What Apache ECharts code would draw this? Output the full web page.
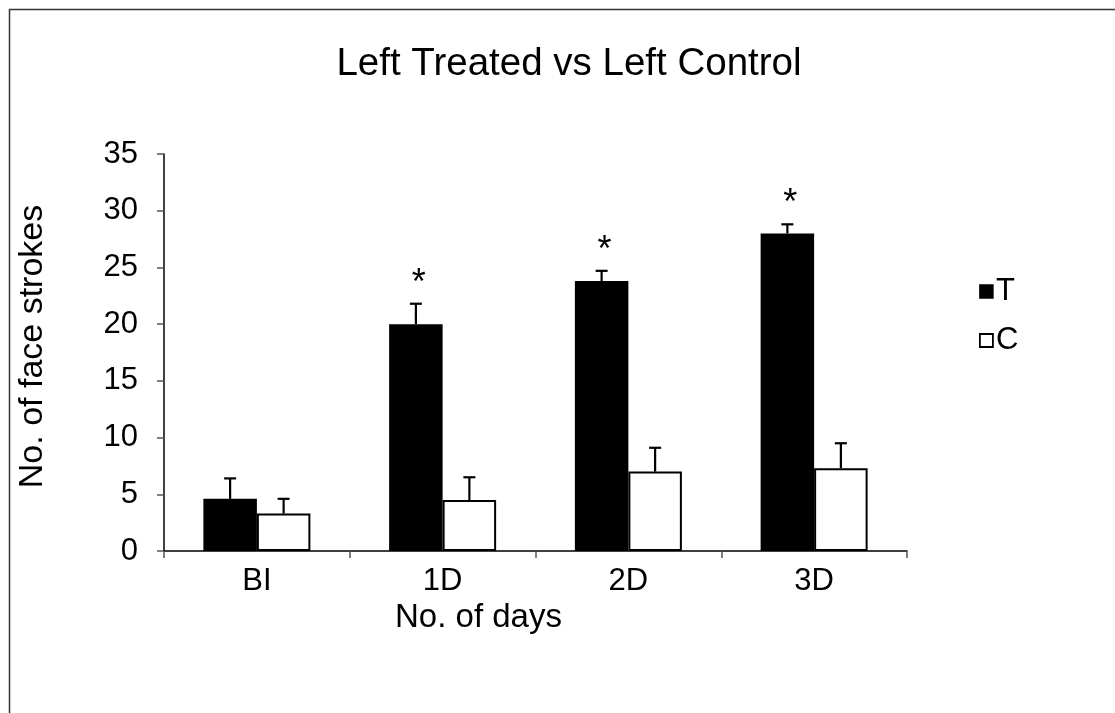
<!DOCTYPE html>
<html>
<head>
<meta charset="utf-8">
<script src="https://cdn.jsdelivr.net/npm/echarts@6/dist/echarts.min.js"></script>
<style>html,body{margin:0;padding:0;background:#fff;}#c{width:1115px;height:713px;}</style>
</head>
<body>
<div id="c"></div>
<script>
var categories = ['BI', '1D', '2D', '3D'];
var treated = [4.6, 20.0, 23.8, 28.0];
var treatedErr = [1.8, 1.8, 0.9, 0.8];
var control = [3.3, 4.5, 7.0, 7.3];
var controlErr = [1.3, 2.0, 2.1, 2.2];
var signif = ['', '*', '*', '*'];
var yTicks = [0, 5, 10, 15, 20, 25, 30, 35];

var FONT = 'Liberation Sans, Arial, sans-serif';
var BAR_W = 53.5;

function errSeries(name, means, errs, side, marks) {
  return {
    type: 'custom',
    name: name + ' err',
    z: 5,
    silent: true,
    data: means.map(function (m, i) { return [i, m, errs[i]]; }),
    renderItem: function (params, api) {
      var i = api.value(0), m = api.value(1), e = api.value(2);
      var base = api.coord([i, m]);
      var top = api.coord([i, m + e]);
      var x = base[0] + side * BAR_W / 2;
      var children = [
        { type: 'line', shape: { x1: x, y1: base[1], x2: x, y2: top[1] }, style: { stroke: '#000', lineWidth: 2.2 } },
        { type: 'line', shape: { x1: x - 6, y1: top[1], x2: x + 6, y2: top[1] }, style: { stroke: '#000', lineWidth: 2.2 } }
      ];
      if (marks && marks[i]) {
        children.push({ type: 'text', style: { text: marks[i], x: x + 3, y: top[1] - 20, align: 'center', verticalAlign: 'middle', font: '36px ' + FONT, fill: '#000' } });
      }
      return { type: 'group', children: children };
    }
  };
}

var chart = echarts.init(document.getElementById('c'));
chart.setOption({
  animation: false,
  backgroundColor: '#fff',
  graphic: [{
    type: 'rect', left: 7, top: 7, silent: true,
    shape: { width: 1200, height: 800 },
    style: { fill: 'none', stroke: '#333', lineWidth: 1.5 }
  }],
  title: {
    text: 'Left Treated vs Left Control',
    left: 564, top: 40, textAlign: 'center',
    textStyle: { fontFamily: FONT, fontSize: 38.5, fontWeight: 'normal', color: '#000' }
  },
  legend: {
    orient: 'vertical', left: 974, top: 271,
    itemWidth: 13, itemHeight: 13, itemGap: 18,
    icon: 'rect',
    textStyle: { fontFamily: FONT, fontSize: 31, color: '#000', padding: [0, 0, 0, -2] },
    data: [
      { name: 'T', itemStyle: { color: '#000', borderColor: '#000', borderWidth: 1.5 } },
      { name: 'C', itemStyle: { color: '#fff', borderColor: '#000', borderWidth: 1.8 } }
    ]
  },
  grid: { left: 164, right: 208, top: 154, bottom: 162, containLabel: false },
  xAxis: {
    type: 'category', data: categories,
    name: 'No. of days', nameLocation: 'middle', nameGap: 45,
    nameTextStyle: { fontFamily: FONT, fontSize: 33, color: '#000', padding: [0, 114, 0, 0] },
    axisLine: { lineStyle: { color: '#000', width: 1.5 } },
    axisTick: { show: true, length: 7, inside: false, lineStyle: { color: '#555', width: 1.5 } },
    axisLabel: { fontFamily: FONT, fontSize: 31, color: '#000', margin: 15 }
  },
  yAxis: {
    type: 'value', min: 0, max: 35, interval: 5,
    name: 'No. of face strokes', nameLocation: 'middle', nameGap: 114,
    nameTextStyle: { fontFamily: FONT, fontSize: 34, color: '#000', padding: [0, 0, 0, 12] },
    axisLine: { show: true, lineStyle: { color: '#000', width: 1.5 } },
    axisTick: { show: true, length: 7, lineStyle: { color: '#555', width: 1.5 } },
    splitLine: { show: false },
    axisLabel: { fontFamily: FONT, fontSize: 31, color: '#000', margin: 26,
      formatter: function (v) { return yTicks.indexOf(v) >= 0 ? String(v) : ''; } }
  },
  series: [
    { type: 'bar', name: 'T', data: treated, barWidth: BAR_W, barGap: '0%',
      itemStyle: { color: '#000', borderColor: '#000', borderWidth: 1.5 } },
    { type: 'bar', name: 'C', data: control, barWidth: BAR_W, barGap: '0%',
      itemStyle: { color: '#fff', borderColor: '#000', borderWidth: 2 } },
    errSeries('T', treated, treatedErr, -1, signif),
    errSeries('C', control, controlErr, 1, null)
  ]
});
</script>
</body>
</html>
